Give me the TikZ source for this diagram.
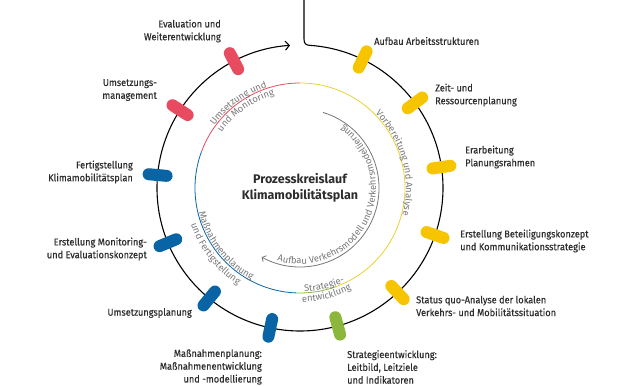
\documentclass[tikz,border=0pt]{standalone}
\usepackage{fontspec}
\setmainfont{Fira Sans}
\newfontfamily\labelfamily{Fira Sans}[FakeStretch=0.92, FakeBold=0.45]
\usepackage{tikz}
\usetikzlibrary{arrows.meta, decorations.text, positioning}
\definecolor{KMYellow}{RGB}{247,196,0}
\definecolor{KMRingYellow}{RGB}{232,210,50}
\definecolor{KMRed}{RGB}{232,74,95}
\definecolor{KMBlue}{RGB}{8,100,165}
\definecolor{KMGreen}{RGB}{140,182,60}
\definecolor{KMText}{RGB}{45,45,45}
\definecolor{KMGray}{RGB}{120,120,120}
\newcommand{\arcfont}{\fontsize{9.4}{10}\selectfont\color{KMGray}}
\tikzset{
    pill/.style={
        line width=12pt, line cap=round
    },
    ringline/.style={
        line width=0.8pt
    },
    steplabel/.style={
        font=\labelfamily\fontsize{10}{12.8}\selectfont, text=KMText, inner sep=0pt
    },
    arctext/.style={
        decorate, decoration={text along path, text align=center, text={|\arcfont|#1}}
    }
}

\begin{document}
\begin{tikzpicture}[x=1pt, y=1pt]
\useasboundingbox (-300,-199) rectangle (321,188);
% outer cycle with entry line
\coordinate (entry) at (4,188);
\draw[line width=1.1pt, -{Straight Barb[length=4pt,width=9pt]}] (entry) -- (4,149)
    .. controls (4,144) and (6,142.9) .. (86:143) arc[start angle=86, end angle=-266, radius=143];
% inner ring, one colour per phase
\draw[ringline, KMRed] (90:105) arc[start angle=90, end angle=160, radius=105];
\draw[ringline, KMBlue] (160:105) arc[start angle=160, end angle=268, radius=105];
\draw[ringline, KMGreen] (268:105) arc[start angle=268, end angle=290, radius=105];
\draw[ringline, KMRingYellow] (290:105) arc[start angle=290, end angle=450, radius=105];
% traffic model loop
\draw[ringline, KMGray, -{Straight Barb[length=3pt,width=7pt]}] (73:79) arc[start angle=73, end angle=-119, radius=79];
% step markers
\foreach \ang/\col in {64/KMYellow, 36.5/KMYellow, 8.4/KMYellow, -19.2/KMYellow, -47/KMYellow, -74.7/KMGreen,
    -102/KMBlue, -129.4/KMBlue, -157.5/KMBlue, -185.2/KMBlue, -213/KMRed, -242.5/KMRed}
    \draw[pill, \col] (\ang:134) -- (\ang:152);
% phase texts
\path[arctext={Umsetzung und}] (161:106) arc[start angle=161, end angle=91, radius=106];
\path[arctext={und Monitoring}] (160:96) arc[start angle=160, end angle=90, radius=96];
\path[arctext={Vorbereitung und Analyse}] (55:106) arc[start angle=55, end angle=-25, radius=106];
\path[arctext={Maßnahmenplanung}] (178:104) arc[start angle=178, end angle=258, radius=104];
\path[arctext={und Fertigstellung}] (178:115) arc[start angle=178, end angle=258, radius=115];
\path[arctext={Strategie-}] (-106:104) arc[start angle=-106, end angle=-46, radius=104];
\path[arctext={entwicklung}] (-106:114) arc[start angle=-106, end angle=-46, radius=114];
\path[arctext={Aufbau Verkehrsmodell und Verkehrsmodellierung}] (-126:76) arc[start angle=-126, end angle=74, radius=76];
% title
\node[font=\bfseries\fontsize{12.5}{16}\selectfont, text=KMText, align=center] (title) at (0,0) {Prozesskreislauf\\Klimamobilitätsplan};
% step labels
\node[steplabel, anchor=west] (aufbau) at (74,147) {Aufbau Arbeitsstrukturen};
\node[steplabel, anchor=west, align=left] (zeit) at (135,93) {Zeit- und\\Ressourcenplanung};
\node[steplabel, anchor=west, align=left] (rahmen) at (165,31) {Erarbeitung\\Planungsrahmen};
\node[steplabel, anchor=west, align=left] (beteiligung) at (160,-53) {Erstellung Beteiligungskonzept\\und Kommunikationsstrategie};
\node[steplabel, anchor=west, align=left] (status) at (116,-118) {Status quo-Analyse der lokalen\\Verkehrs- und Mobilitätssituation};
\node[steplabel, anchor=west, align=left] (strategie) at (47,-179) {Strategieentwicklung:\\Leitbild, Leitziele\\und Indikatoren};
\node[steplabel, anchor=east, align=right] (massnahmen) at (-38,-179) {Maßnahmenplanung:\\Maßnahmenentwicklung\\und -modellierung};
\node[steplabel, anchor=east] (umsplanung) at (-108,-125) {Umsetzungsplanung};
\node[steplabel, anchor=east, align=right] (monitoring) at (-153,-61) {Erstellung Monitoring-\\und Evaluationskonzept};
\node[steplabel, anchor=east, align=right] (fertig) at (-167,16) {Fertigstellung\\Klimamobilitätsplan};
\node[steplabel, anchor=east, align=right] (management) at (-143,98) {Umsetzungs-\\management};
\node[steplabel, anchor=east, align=right] (evaluation) at (-79,157) {Evaluation und\\Weiterentwicklung};
\end{tikzpicture}
\end{document}
